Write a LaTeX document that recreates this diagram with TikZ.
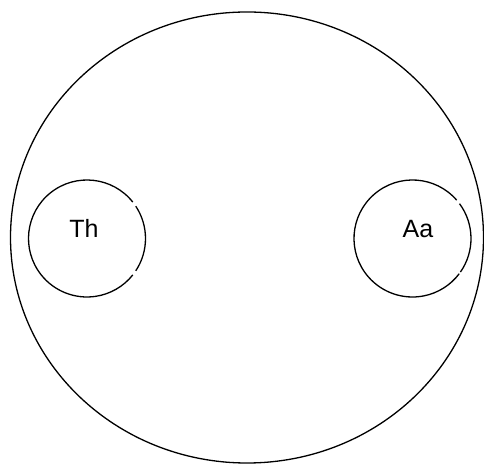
\documentclass[tikz,border=0pt]{standalone}
\usepackage{fontspec}
\setmainfont{Liberation Sans}
\usetikzlibrary{calc}
\begin{document}
\begin{tikzpicture}[x=1pt,y=1pt,
  outline/.style={draw=black,line width=1.3pt},
  lbl/.style={font=\fontsize{25}{28}\selectfont,inner sep=0pt}]
\useasboundingbox[fill=white] (0,0) rectangle (484,465);
\coordinate (big) at (247,227.5);
\draw[outline] (big) ellipse [x radius=236.5,y radius=225.5];
% Th circle with two small gaps on its right side
\coordinate (thc) at (87,226.5);
\draw[outline] ($(thc)+(38.5:58.5)$) arc[start angle=38.5,end angle=321.5,radius=58.5];
\draw[outline] ($(thc)+(-33.5:58.5)$) arc[start angle=-33.5,end angle=33.5,radius=58.5];
% Aa circle with two small gaps on its right side
\coordinate (aac) at (412.5,226.5);
\draw[outline] ($(aac)+(41:58.5)$) arc[start angle=41,end angle=323,radius=58.5];
\draw[outline] ($(aac)+(-35:58.5)$) arc[start angle=-35,end angle=36.5,radius=58.5];
\node[lbl] (th) at (84,237) {Th};
\node[lbl] (aa) at (418,236) {Aa};
\end{tikzpicture}
\end{document}
